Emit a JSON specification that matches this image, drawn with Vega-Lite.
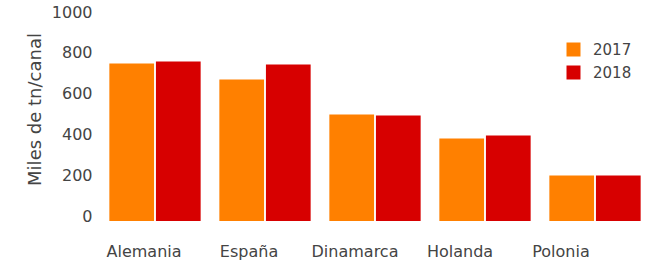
{
  "$schema": "https://vega.github.io/schema/vega-lite/v6.json",
  "autosize": "none",
  "width": 550,
  "height": 204,
  "padding": {"left": 100, "top": 17, "right": 1, "bottom": 39},
  "background": "white",
  "config": {
    "view": {"stroke": null},
    "font": "DejaVu Sans"
  },
  "data": {
    "values": [
      {"pais": "Alemania", "año": "2017", "valor": 772},
      {"pais": "Alemania", "año": "2018", "valor": 782},
      {"pais": "España", "año": "2017", "valor": 694},
      {"pais": "España", "año": "2018", "valor": 767},
      {"pais": "Dinamarca", "año": "2017", "valor": 522},
      {"pais": "Dinamarca", "año": "2018", "valor": 517},
      {"pais": "Holanda", "año": "2017", "valor": 404},
      {"pais": "Holanda", "año": "2018", "valor": 419},
      {"pais": "Polonia", "año": "2017", "valor": 223},
      {"pais": "Polonia", "año": "2018", "valor": 223}
    ]
  },
  "mark": {"type": "bar"},
  "encoding": {
    "x": {
      "field": "pais",
      "type": "nominal",
      "sort": null,
      "scale": {"paddingInner": 0.17, "paddingOuter": 0.085},
      "axis": {
        "title": null,
        "domain": false,
        "ticks": false,
        "tickSize": 0,
        "labelAngle": 0,
        "labelFont": "DejaVu Sans",
        "labelFontSize": 16,
        "labelColor": "#444444",
        "labelBaseline": "alphabetic",
        "labelPadding": 35,
        "labelOffset": {
          "condition": [
            {"test": "datum.value === 'Alemania'", "value": -11},
            {"test": "datum.value === 'España'", "value": -16},
            {"test": "datum.value === 'Dinamarca'", "value": -20},
            {"test": "datum.value === 'Holanda'", "value": -25}
          ],
          "value": -34
        }
      }
    },
    "xOffset": {
      "field": "año",
      "type": "nominal",
      "scale": {"paddingInner": 0.04, "paddingOuter": 0}
    },
    "y": {
      "field": "valor",
      "type": "quantitative",
      "scale": {"domain": [0, 1000], "nice": false},
      "axis": {
        "title": "Miles de tn/canal",
        "values": [0, 200, 400, 600, 800, 1000],
        "format": "d",
        "domain": false,
        "ticks": false,
        "tickSize": 0,
        "grid": false,
        "labelFont": "DejaVu Sans",
        "labelFontSize": 16,
        "labelColor": "#444444",
        "labelBaseline": "alphabetic",
        "labelPadding": 8,
        "titleFont": "DejaVu Sans",
        "titleFontSize": 18,
        "titleFontWeight": "normal",
        "titleColor": "#444444",
        "titleBaseline": "alphabetic",
        "titleAngle": -90,
        "titleX": -60,
        "titleY": 92,
        "titleAlign": "center"
      }
    },
    "color": {
      "field": "año",
      "type": "nominal",
      "scale": {"domain": ["2017", "2018"], "range": ["#FF8000", "#D70000"]},
      "legend": {
        "title": null,
        "orient": "none",
        "legendX": 466,
        "legendY": 25,
        "symbolType": "square",
        "symbolSize": 196,
        "symbolStrokeWidth": 0,
        "labelFont": "DejaVu Sans",
        "labelFontSize": 15,
        "labelColor": "#444444",
        "labelOffset": 12,
        "rowPadding": 7,
        "encode": {
          "symbols": {
            "update": {
              "fill": {"signal": "datum.value === '2018' ? '#ED1C24' : '#FF8000'"},
              "opacity": {"value": 1}
            }
          }
        }
      }
    }
  }
}
